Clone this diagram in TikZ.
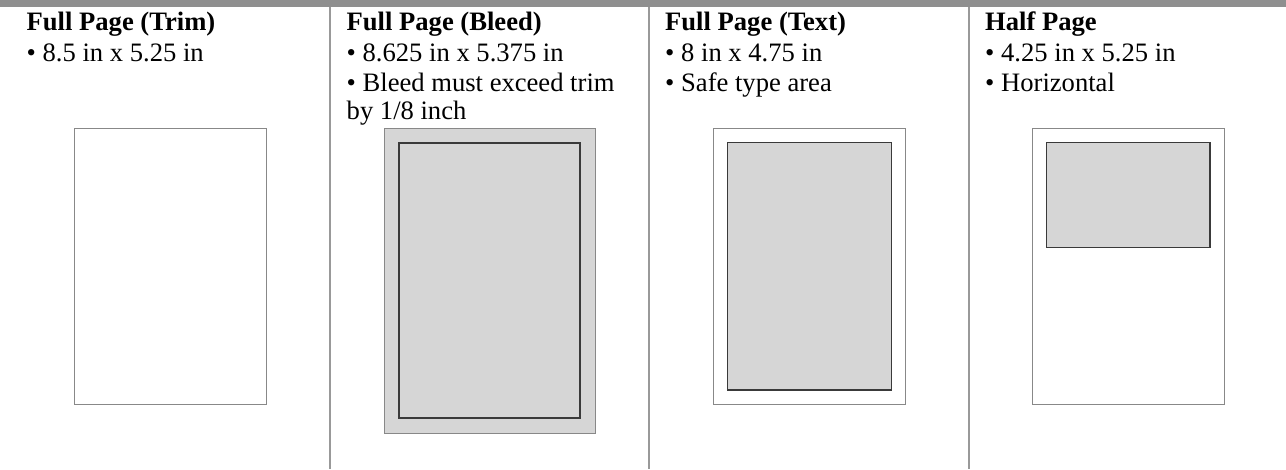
\documentclass[tikz,border=0pt]{standalone}
\usepackage{fontspec}
\setmainfont{Liberation Serif}
\definecolor{barcol}{HTML}{8F8F8F}
\definecolor{divcol}{HTML}{999999}
\definecolor{pagecol}{HTML}{888888}
\definecolor{areacol}{HTML}{D6D6D6}
\definecolor{edgecol}{HTML}{3A3A3A}
\begin{document}
\begin{tikzpicture}[x=1pt,y=-1pt,
  txt/.style={anchor=base west, inner sep=0pt, font=\fontsize{26.6}{30}\selectfont},
  ttl/.style={anchor=base west, inner sep=0pt, font=\fontsize{26.6}{30}\selectfont\bfseries},
  divider/.style={draw=divcol, line width=1.6pt},
  pagebox/.style={draw=pagecol, line width=1pt, fill=white},
  bleedbox/.style={draw=pagecol, line width=1pt, fill=areacol},
  areabox/.style={draw=edgecol, line width=1.4pt, fill=areacol},
  trimbox/.style={draw=edgecol, line width=2.2pt, fill=areacol}]
\useasboundingbox (0,0) rectangle (1286,469);
\fill[white] (0,0) rectangle (1286,469);
% top bar
\fill[barcol] (0,0) rectangle (1286,7);
% dividers
\draw[divider] (330,7) -- (330,469);
\draw[divider] (649,7) -- (649,469);
\draw[divider] (969,7) -- (969,469);
% column 1
\node[ttl] (t1) at (26.5,30.7) {Full Page (Trim)};
\node[txt] (a1) at (26.5,61.7) {• 8.5 in x 5.25 in};
\draw[pagebox] (74.5,128.5) rectangle (266.5,404.3);
% column 2
\node[ttl] (t2) at (346.5,30.7) {Full Page (Bleed)};
\node[txt] (a2) at (346.5,61.7) {• 8.625 in x 5.375 in};
\node[txt] (b2) at (346.5,91.7) {• Bleed must exceed trim};
\node[txt] (c2) at (346.5,119.5) {by 1/8 inch};
\draw[bleedbox] (384.3,128.3) rectangle (595.7,433.3);
\draw[trimbox] (399.3,143.3) rectangle (580.3,418.3);
% column 3
\node[ttl] (t3) at (665,30.7) {Full Page (Text)};
\node[txt] (a3) at (665,61.7) {• 8 in x 4.75 in};
\node[txt] (b3) at (665,91.7) {• Safe type area};
\draw[pagebox] (713.3,128.3) rectangle (905.7,404.3);
\draw[areabox] (727.3,142.3) rectangle (891.3,390);
% column 4
\node[ttl] (t4) at (985,30.7) {Half Page};
\node[txt] (a4) at (985,61.7) {• 4.25 in x 5.25 in};
\node[txt] (b4) at (985,91.7) {• Horizontal};
\draw[pagebox] (1032.3,128.3) rectangle (1224.3,404.3);
\draw[areabox] (1046.7,142.3) rectangle (1210,247.7);
\end{tikzpicture}
\end{document}
